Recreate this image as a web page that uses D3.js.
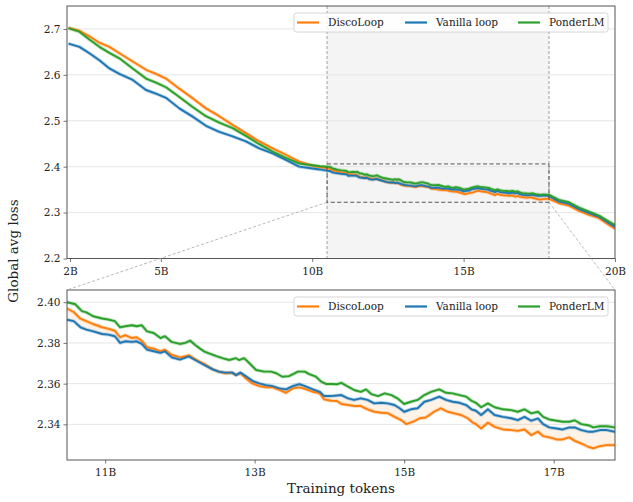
<!DOCTYPE html>
<html><head><meta charset="utf-8">
<script src="https://cdn.jsdelivr.net/npm/d3@7"></script>
<style>body{margin:0;background:#fff}svg{display:block;font-family:"DejaVu Serif",serif}</style>
</head><body><svg id="c" width="633" height="502"></svg>
<script>
const seriesNames = ["DiscoLoop", "Vanilla loop", "PonderLM"];
const seriesColors = ["#ff7f0e", "#1f77b4", "#2ca02c"];
const topXTicks = [2, 5, 10, 15, 20];
const topYTicks = [2.2, 2.3, 2.4, 2.5, 2.6, 2.7];
const botXTicks = [11, 13, 15, 17];
const botYTicks = [2.34, 2.36, 2.38, 2.40];
const zoomX = [10.49, 17.82];
const zoomY = [2.3225, 2.406];

const discoLoop = [[1.95,2.702],[2.31,2.696],[2.64,2.684],[2.97,2.670],[3.30,2.661],[3.63,2.647],[4.07,2.629],[4.51,2.611],[4.84,2.602],[5.17,2.592],[5.61,2.570],[6.05,2.549],[6.49,2.527],[6.93,2.510],[7.37,2.491],[7.81,2.473],[8.25,2.455],[8.69,2.440],[9.13,2.426],[9.57,2.411],[10.01,2.402],[10.25,2.399],
[10.49,2.3969],[10.58,2.3952],[10.67,2.3919],[10.75,2.3907],[10.84,2.3893],[10.96,2.3877],[11.04,2.387],[11.13,2.386],[11.20,2.3828],[11.27,2.3838],[11.36,2.3824],[11.42,2.3828],[11.49,2.3811],[11.56,2.3779],[11.65,2.3772],[11.74,2.3759],[11.80,2.3767],[11.89,2.3742],[12.00,2.3729],[12.12,2.3739],[12.18,2.3726],[12.26,2.3708],[12.35,2.3692],[12.44,2.367],[12.52,2.3659],[12.61,2.3651],[12.70,2.3654],[12.75,2.3642],[12.81,2.3652],[12.88,2.3626],[12.97,2.3601],[13.06,2.3588],[13.15,2.3582],[13.24,2.3582],[13.33,2.3569],[13.42,2.3555],[13.51,2.3577],[13.60,2.3582],[13.69,2.3572],[13.78,2.356],[13.87,2.3552],[13.93,2.3523],[14.02,2.3516],[14.10,2.3515],[14.16,2.350],[14.25,2.3495],[14.33,2.349],[14.42,2.349],[14.51,2.3474],[14.60,2.3462],[14.69,2.3457],[14.78,2.3455],[14.87,2.3437],[14.96,2.3421],[15.03,2.3401],[15.12,2.3413],[15.21,2.343],[15.29,2.3434],[15.40,2.3462],[15.49,2.3479],[15.58,2.3462],[15.67,2.3454],[15.76,2.3446],[15.85,2.343],[15.92,2.3408],[15.96,2.3401],[16.03,2.338],[16.12,2.3408],[16.21,2.3388],[16.32,2.3375],[16.43,2.3372],[16.52,2.3368],[16.61,2.3375],[16.70,2.3347],[16.79,2.3364],[16.86,2.3342],[16.94,2.3336],[17.04,2.3326],[17.12,2.3326],[17.21,2.3336],[17.28,2.3319],[17.37,2.3306],[17.46,2.329],[17.53,2.3282],[17.62,2.3293],[17.71,2.3298],[17.82,2.3298],
[18.15,2.3204],[18.48,2.3152],[18.81,2.3037],[19.14,2.295],[19.47,2.2878],[19.80,2.2733],[20.0,2.265]];

const vanillaLoop = [[1.95,2.668],[2.31,2.661],[2.64,2.647],[2.97,2.632],[3.30,2.614],[3.63,2.602],[4.07,2.589],[4.51,2.567],[4.84,2.559],[5.17,2.550],[5.61,2.527],[6.05,2.509],[6.49,2.489],[6.93,2.476],[7.37,2.466],[7.81,2.455],[8.25,2.440],[8.69,2.429],[9.13,2.415],[9.57,2.400],[10.01,2.396],[10.25,2.394],
[10.49,2.3914],[10.58,2.3907],[10.67,2.3877],[10.75,2.3865],[10.84,2.3857],[10.96,2.3844],[11.04,2.3841],[11.13,2.3833],[11.20,2.380],[11.27,2.3808],[11.36,2.3805],[11.42,2.3808],[11.49,2.3795],[11.56,2.3767],[11.65,2.3759],[11.74,2.3751],[11.80,2.3759],[11.89,2.3729],[12.00,2.3718],[12.12,2.3734],[12.18,2.3721],[12.26,2.3705],[12.35,2.3687],[12.44,2.367],[12.52,2.3659],[12.61,2.3654],[12.70,2.3654],[12.75,2.3642],[12.81,2.3654],[12.88,2.3637],[12.97,2.3614],[13.06,2.3601],[13.15,2.3593],[13.24,2.3588],[13.33,2.3577],[13.42,2.3572],[13.51,2.3588],[13.60,2.3598],[13.69,2.3585],[13.78,2.3572],[13.87,2.356],[13.93,2.3539],[14.02,2.3539],[14.10,2.3542],[14.16,2.3544],[14.25,2.3528],[14.33,2.352],[14.42,2.3528],[14.51,2.352],[14.60,2.3503],[14.69,2.3506],[14.78,2.3503],[14.87,2.3495],[14.94,2.3479],[15.00,2.3462],[15.09,2.3474],[15.18,2.3479],[15.27,2.3511],[15.36,2.352],[15.47,2.3536],[15.56,2.352],[15.65,2.3511],[15.74,2.3506],[15.83,2.3495],[15.90,2.3474],[15.96,2.3467],[16.03,2.3446],[16.12,2.3474],[16.21,2.3446],[16.32,2.3437],[16.43,2.343],[16.52,2.3421],[16.61,2.3437],[16.70,2.3418],[16.79,2.3429],[16.86,2.3401],[16.94,2.3385],[17.04,2.338],[17.12,2.3375],[17.21,2.3385],[17.28,2.3385],[17.37,2.3372],[17.46,2.3364],[17.53,2.3364],[17.62,2.3372],[17.71,2.3372],[17.82,2.3364],
[18.15,2.324],[18.48,2.319],[18.81,2.3075],[19.14,2.2988],[19.47,2.2908],[19.80,2.277],[20.0,2.269]];

const ponderLM = [[1.95,2.702],[2.31,2.694],[2.64,2.677],[2.97,2.661],[3.30,2.648],[3.63,2.636],[4.07,2.614],[4.51,2.592],[4.84,2.583],[5.17,2.573],[5.61,2.552],[6.05,2.530],[6.49,2.510],[6.93,2.496],[7.37,2.484],[7.81,2.467],[8.25,2.449],[8.69,2.433],[9.13,2.419],[9.57,2.407],[10.01,2.403],[10.25,2.401],
[10.49,2.400],[10.60,2.399],[10.69,2.3956],[10.75,2.395],[10.84,2.3931],[10.96,2.392],[11.04,2.3915],[11.13,2.3907],[11.20,2.3877],[11.27,2.3882],[11.36,2.3887],[11.42,2.3882],[11.49,2.3887],[11.56,2.3857],[11.65,2.3849],[11.74,2.3824],[11.80,2.3833],[11.89,2.3805],[12.00,2.3795],[12.07,2.380],[12.14,2.3811],[12.20,2.3791],[12.27,2.3772],[12.33,2.3757],[12.39,2.3749],[12.48,2.3736],[12.57,2.3725],[12.66,2.3716],[12.75,2.3725],[12.79,2.3716],[12.86,2.3725],[12.93,2.370],[13.02,2.3667],[13.13,2.3659],[13.22,2.3659],[13.29,2.3651],[13.37,2.3634],[13.46,2.3637],[13.58,2.3659],[13.67,2.3659],[13.73,2.3647],[13.82,2.3634],[13.89,2.361],[13.96,2.3598],[14.04,2.3598],[14.10,2.3597],[14.16,2.3604],[14.25,2.3585],[14.33,2.3569],[14.42,2.356],[14.49,2.3572],[14.56,2.3549],[14.65,2.3539],[14.74,2.3552],[14.83,2.3544],[14.91,2.3528],[15.00,2.350],[15.09,2.3511],[15.18,2.352],[15.27,2.3544],[15.36,2.356],[15.47,2.3572],[15.56,2.3555],[15.65,2.3552],[15.74,2.3544],[15.83,2.3536],[15.90,2.3516],[15.96,2.3506],[16.03,2.3484],[16.12,2.3503],[16.21,2.3484],[16.32,2.3474],[16.43,2.347],[16.52,2.3462],[16.61,2.3474],[16.70,2.3454],[16.79,2.3462],[16.86,2.3437],[16.94,2.3424],[17.04,2.3418],[17.12,2.3413],[17.21,2.3413],[17.28,2.342],[17.37,2.3401],[17.46,2.3396],[17.53,2.3385],[17.62,2.3391],[17.71,2.3391],[17.82,2.3385],
[18.15,2.3276],[18.48,2.3226],[18.81,2.311],[19.14,2.3022],[19.47,2.2935],[19.80,2.2804],[20.0,2.273]];

const allSeries = [discoLoop, vanillaLoop, ponderLM];

const svg = d3.select("#c");
const spine = "#555";
const fmtB = d => d + "B";

const panels = [
  {id:"top", x:d3.scaleLinear().domain([1.9,20]).range([67,615]), y:d3.scaleLinear().domain([2.2,2.75]).range([258.5,6]),
   xt:topXTicks, yt:topYTicks, yfmt:d3.format(".1f")},
  {id:"bot", x:d3.scaleLinear().domain(zoomX).range([67,615]), y:d3.scaleLinear().domain(zoomY).range([460,290]),
   xt:botXTicks, yt:botYTicks, yfmt:d3.format(".2f")}
];

const defs = svg.append("defs");
panels.forEach(p => {
  const [x0,x1] = p.x.range(), [y1,y0] = p.y.range();
  p.box = {x0,x1,y0,y1};
  defs.append("clipPath").attr("id","clip-"+p.id).append("rect")
    .attr("x",x0).attr("y",y0).attr("width",x1-x0).attr("height",y1-y0);
  const g = svg.append("g");
  p.g = g;
  if (p.id === "top") {
    g.append("rect").attr("x",p.x(zoomX[0])).attr("y",y0).attr("width",p.x(zoomX[1])-p.x(zoomX[0])).attr("height",y1-y0)
      .attr("fill","#f4f4f4");
  }
  g.append("g").selectAll("line").data(p.yt).join("line")
    .attr("x1",x0).attr("x2",x1).attr("y1",d=>p.y(d)).attr("y2",d=>p.y(d))
    .attr("stroke","#e6e6e6").attr("stroke-width",1);
  if (p.id === "top") {
    zoomX.forEach(v => g.append("line").attr("x1",p.x(v)).attr("x2",p.x(v)).attr("y1",y0).attr("y2",y1)
      .attr("stroke","#888").attr("stroke-width",0.8).attr("stroke-dasharray","3,2"));
  }
  const plot = g.append("g").attr("clip-path","url(#clip-"+p.id+")");
  const line = d3.line().x(d=>p.x(d[0])).y(d=>p.y(d[1]));
  if (p.id === "bot") {
    const poly = discoLoop.concat(vanillaLoop.slice().reverse());
    plot.append("path").attr("d", line(poly) + "Z").attr("fill","#ff7f0e").attr("fill-opacity",0.1);
  }
  allSeries.forEach((s,i) => {
    plot.append("path").attr("d",line(s)).attr("fill","none").attr("stroke",seriesColors[i])
      .attr("stroke-width",3.6).attr("stroke-opacity",0.3).attr("stroke-linejoin","round");
  });
  allSeries.forEach((s,i) => {
    plot.append("path").attr("d",line(s)).attr("fill","none").attr("stroke",seriesColors[i])
      .attr("stroke-width",1.9).attr("stroke-linejoin","round");
  });
  if (p.id === "top") {
    g.append("rect").attr("x",p.x(zoomX[0])).attr("y",p.y(zoomY[1]))
      .attr("width",p.x(zoomX[1])-p.x(zoomX[0])).attr("height",p.y(zoomY[0])-p.y(zoomY[1]))
      .attr("fill","none").attr("stroke","#555").attr("stroke-width",1).attr("stroke-dasharray","4,2.5");
  }
  const xa = g.append("g").attr("transform",`translate(0,${y1})`)
    .call(d3.axisBottom(p.x).tickValues(p.xt).tickFormat(fmtB).tickSize(3.5).tickSizeOuter(0));
  const ya = g.append("g").attr("transform",`translate(${x0},0)`)
    .call(d3.axisLeft(p.y).tickValues(p.yt).tickFormat(p.yfmt).tickSize(3.5).tickSizeOuter(0));
  [xa,ya].forEach(a => {
    a.select(".domain").remove();
    a.selectAll(".tick line").attr("stroke",spine).attr("stroke-width",0.8);
    a.selectAll(".tick text").attr("fill","#222").style("font-family","DejaVu Serif").style("font-size","10.5px");
  });
  xa.selectAll(".tick text").attr("dy","0.95em");
  g.append("rect").attr("x",x0).attr("y",y0).attr("width",x1-x0).attr("height",y1-y0)
    .attr("fill","none").attr("stroke",spine).attr("stroke-width",1);
  const ly = y0 + 16.5;
  const lg = g.append("g");
  lg.append("rect").attr("x",294).attr("y",ly-9.5).attr("width",314).attr("height",19).attr("rx",2.5)
    .attr("fill","#fff").attr("fill-opacity",0.85).attr("stroke","#ccc").attr("stroke-width",0.8);
  const lx = [297, 405, 518];
  seriesNames.forEach((n,i) => {
    lg.append("line").attr("x1",lx[i]).attr("x2",lx[i]+22).attr("y1",ly).attr("y2",ly)
      .attr("stroke",seriesColors[i]).attr("stroke-width",2.2);
    lg.append("text").attr("x",lx[i]+31).attr("y",ly).attr("dy","0.35em").attr("fill","#222")
      .style("font-size","10.5px").text(n);
  });
});

const pt = panels[0], pb = panels[1];
[[zoomX[0], pb.box.x0],[zoomX[1], pb.box.x1]].forEach(([v,bx]) => {
  svg.append("line").attr("x1",pt.x(v)).attr("y1",pt.y(zoomY[0])).attr("x2",bx).attr("y2",pb.box.y0)
    .attr("stroke","#999").attr("stroke-width",0.7).attr("stroke-dasharray","3,2");
});

svg.append("text").attr("transform","translate(13,251) rotate(-90)").attr("text-anchor","middle")
  .attr("dy","0.35em").style("font-size","13.5px").attr("fill","#222").text("Global avg loss");
svg.append("text").attr("x",341).attr("y",488).attr("text-anchor","middle").attr("dy","0.35em")
  .style("font-size","13.5px").attr("fill","#222").text("Training tokens");
</script></body></html>
